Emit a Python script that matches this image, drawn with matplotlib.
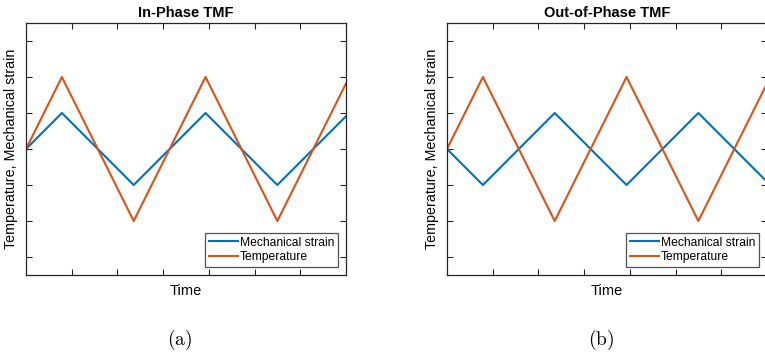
import matplotlib.pyplot as plt

plt.rcParams['font.family'] = ['Liberation Sans', 'DejaVu Sans']
plt.rcParams['mathtext.fontset'] = 'cm'

# Triangle wave vertices (time, value)
time = [0.0, 0.785, 2.356, 3.927, 5.498, 7.0]
temperature = [0.0, 2.0, -2.0, 2.0, -2.0, 1.82]
strain_in_phase = [0.0, 1.0, -1.0, 1.0, -1.0, 0.91]
strain_out_phase = [0.0, -1.0, 1.0, -1.0, 1.0, -0.91]

titles = ["In-Phase TMF", "Out-of-Phase TMF"]
captions = ["(a)", "(b)"]
x_ticks = [1, 2, 3, 4, 5, 6]
y_ticks = [-3, -2, -1, 0, 1, 2, 3]

blue = "#0072BD"
orange = "#D95319"
dark = "#262626"

W, H = 765, 353
fig = plt.figure(figsize=(W / 100, H / 100), dpi=100)

lefts = [26, 447]
for i, strain in enumerate([strain_in_phase, strain_out_phase]):
    ax = fig.add_axes([lefts[i] / W, (H - 275) / H, 320 / W, 252 / H])
    ax.plot(time, strain, color=blue, lw=1.5, label="Mechanical strain")
    ax.plot(time, temperature, color=orange, lw=1.5, label="Temperature")
    ax.set_xlim(0, 7)
    ax.set_ylim(-3.5, 3.5)
    ax.set_xticks(x_ticks)
    ax.set_yticks(y_ticks)
    ax.set_xticklabels([])
    ax.set_yticklabels([])
    ax.tick_params(direction="in", top=True, right=True, length=4,
                   width=0.8, color=dark)
    for s in ax.spines.values():
        s.set_color(dark)
        s.set_linewidth(0.9)
    ax.set_title(titles[i], fontsize=10.5, fontweight="bold", pad=4, color="black")
    ax.set_xlabel("Time", fontsize=10.5)
    ax.set_ylabel("Temperature, Mechanical strain", fontsize=10.3)
    ax.xaxis.set_label_coords(0.5, -9 / 252)
    ax.yaxis.set_label_coords(-8 / 320, 0.5)
    leg = ax.legend(loc="lower right", fontsize=8.7, frameon=True, fancybox=False,
                    borderpad=0.3, labelspacing=0.2, handlelength=2.4,
                    handletextpad=0.15, borderaxespad=0.7)
    leg.get_frame().set_edgecolor(dark)
    leg.get_frame().set_linewidth(0.9)
    fig.text((lefts[i] + 154) / W, (H - 340) / H, r"$\mathrm{" + captions[i] + "}$",
             fontsize=14, ha="center", va="center")

fig.savefig("out.png", dpi=100)
